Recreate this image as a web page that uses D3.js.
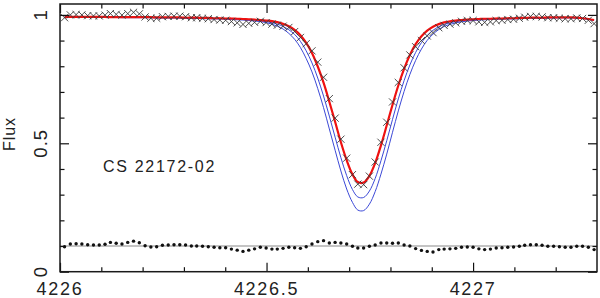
<!DOCTYPE html>
<html>
<head>
<meta charset="utf-8">
<script src="https://cdn.jsdelivr.net/npm/d3@7"></script>
<style>
  body { margin: 0; background: #fff; }
  text { font-family: "Liberation Sans", Arial, sans-serif; fill: #222; }
</style>
</head>
<body>
<svg width="600" height="298"></svg>
<script>
// wavelength grid (Angstrom)
const wave = [
  4226.011, 4226.025, 4226.039, 4226.053, 4226.067, 4226.081, 4226.095, 4226.109, 4226.122, 4226.136,
  4226.150, 4226.164, 4226.178, 4226.192, 4226.206, 4226.220, 4226.234, 4226.248, 4226.262, 4226.276,
  4226.290, 4226.304, 4226.318, 4226.331, 4226.345, 4226.359, 4226.373, 4226.387, 4226.401, 4226.415,
  4226.429, 4226.443, 4226.457, 4226.471, 4226.485, 4226.499, 4226.513, 4226.526, 4226.540, 4226.554,
  4226.568, 4226.582, 4226.596, 4226.610, 4226.624, 4226.638, 4226.652, 4226.666, 4226.680, 4226.694,
  4226.708, 4226.721, 4226.735, 4226.749, 4226.763, 4226.777, 4226.791, 4226.805, 4226.819, 4226.833,
  4226.847, 4226.861, 4226.875, 4226.889, 4226.903, 4226.917, 4226.930, 4226.944, 4226.958, 4226.972,
  4226.986, 4227.000, 4227.014, 4227.028, 4227.042, 4227.056, 4227.070, 4227.084, 4227.098, 4227.112,
  4227.125, 4227.139, 4227.153, 4227.167, 4227.181, 4227.195, 4227.209, 4227.223, 4227.237, 4227.251,
  4227.265, 4227.279, 4227.293
];

// observed spectrum
const obsFlux = [
  0.989, 1.000, 1.001, 1.000, 0.997, 0.996, 0.996, 0.999, 1.005, 1.002,
  0.999, 1.005, 1.010, 1.004, 0.992, 0.987, 0.987, 0.993, 0.994, 0.995,
  0.995, 0.993, 0.989, 0.989, 0.987, 0.985, 0.982, 0.980, 0.979, 0.974,
  0.969, 0.963, 0.967, 0.971, 0.975, 0.970, 0.964, 0.960, 0.956, 0.951,
  0.935, 0.912, 0.888, 0.860, 0.816, 0.757, 0.674, 0.598, 0.516, 0.442,
  0.378, 0.341, 0.339, 0.372, 0.427, 0.504, 0.582, 0.661, 0.737, 0.794,
  0.844, 0.876, 0.900, 0.918, 0.931, 0.950, 0.959, 0.964, 0.969, 0.975,
  0.978, 0.978, 0.973, 0.971, 0.973, 0.978, 0.979, 0.982, 0.983, 0.987,
  0.991, 0.994, 0.994, 0.992, 0.989, 0.989, 0.987, 0.985, 0.985, 0.988,
  0.986, 0.979, 0.966
];

// best fit synthesis (red)
const fitFlux = [
  0.992, 0.992, 0.992, 0.992, 0.992, 0.992, 0.992, 0.992, 0.991, 0.991,
  0.991, 0.991, 0.991, 0.991, 0.991, 0.991, 0.990, 0.990, 0.990, 0.990,
  0.990, 0.989, 0.989, 0.989, 0.988, 0.988, 0.987, 0.987, 0.986, 0.986,
  0.985, 0.984, 0.983, 0.982, 0.980, 0.978, 0.976, 0.972, 0.965, 0.956,
  0.942, 0.921, 0.891, 0.852, 0.799, 0.736, 0.662, 0.584, 0.504, 0.434,
  0.379, 0.349, 0.347, 0.373, 0.423, 0.492, 0.570, 0.650, 0.725, 0.790,
  0.844, 0.886, 0.917, 0.939, 0.954, 0.964, 0.971, 0.975, 0.978, 0.980,
  0.982, 0.983, 0.984, 0.985, 0.985, 0.986, 0.986, 0.987, 0.987, 0.988,
  0.988, 0.989, 0.989, 0.989, 0.990, 0.990, 0.990, 0.990, 0.990, 0.989,
  0.987, 0.984, 0.980
];

// stronger syntheses (blue)
const synA = [
  0.991, 0.991, 0.991, 0.991, 0.991, 0.991, 0.991, 0.991, 0.990, 0.990,
  0.990, 0.990, 0.990, 0.990, 0.990, 0.990, 0.989, 0.989, 0.989, 0.989,
  0.989, 0.988, 0.988, 0.988, 0.987, 0.987, 0.986, 0.986, 0.985, 0.985,
  0.984, 0.982, 0.981, 0.979, 0.977, 0.974, 0.970, 0.964, 0.955, 0.942,
  0.924, 0.897, 0.860, 0.813, 0.754, 0.684, 0.606, 0.524, 0.444, 0.374,
  0.320, 0.291, 0.289, 0.314, 0.363, 0.432, 0.510, 0.593, 0.673, 0.744,
  0.805, 0.854, 0.892, 0.920, 0.940, 0.954, 0.963, 0.969, 0.974, 0.977,
  0.979, 0.980, 0.982, 0.983, 0.984, 0.985, 0.985, 0.986, 0.986, 0.987,
  0.987, 0.988, 0.988, 0.988, 0.989, 0.989, 0.989, 0.989, 0.989, 0.988,
  0.986, 0.983, 0.979
];
const synB = [
  0.991, 0.991, 0.991, 0.991, 0.991, 0.991, 0.991, 0.991, 0.990, 0.990,
  0.989, 0.989, 0.989, 0.989, 0.989, 0.989, 0.988, 0.988, 0.988, 0.988,
  0.987, 0.986, 0.986, 0.986, 0.985, 0.985, 0.984, 0.984, 0.983, 0.982,
  0.981, 0.980, 0.978, 0.976, 0.974, 0.970, 0.964, 0.956, 0.945, 0.928,
  0.905, 0.873, 0.830, 0.778, 0.713, 0.639, 0.556, 0.473, 0.392, 0.322,
  0.270, 0.240, 0.238, 0.263, 0.312, 0.380, 0.458, 0.543, 0.626, 0.702,
  0.768, 0.823, 0.867, 0.901, 0.925, 0.943, 0.955, 0.963, 0.969, 0.973,
  0.976, 0.978, 0.980, 0.981, 0.982, 0.983, 0.983, 0.984, 0.984, 0.985,
  0.986, 0.987, 0.987, 0.987, 0.988, 0.988, 0.989, 0.989, 0.989, 0.988,
  0.986, 0.983, 0.979
];

// residuals obs - fit, drawn around 0.1
const resid = [
  -0.003, 0.008, 0.009, 0.008, 0.005, 0.004, 0.004, 0.007, 0.014, 0.011,
  0.008, 0.014, 0.019, 0.013, 0.001, -0.004, -0.003, 0.003, 0.004, 0.005,
  0.005, 0.004, 0.000, 0.000, -0.001, -0.003, -0.005, -0.007, -0.007, -0.012,
  -0.016, -0.021, -0.016, -0.011, -0.005, -0.008, -0.012, -0.012, -0.009, -0.005,
  -0.007, -0.009, -0.003, 0.008, 0.017, 0.021, 0.012, 0.014, 0.012, 0.008,
  -0.001, -0.008, -0.008, -0.001, 0.004, 0.012, 0.012, 0.011, 0.012, 0.004,
  0.000, -0.010, -0.017, -0.021, -0.023, -0.014, -0.012, -0.011, -0.009, -0.005,
  -0.004, -0.005, -0.011, -0.014, -0.012, -0.008, -0.007, -0.005, -0.004, -0.001,
  0.003, 0.005, 0.005, 0.003, -0.001, -0.001, -0.003, -0.005, -0.005, -0.001,
  -0.001, -0.005, -0.014
];
const residBase = 0.1;

const xMajorTicks = [4226, 4226.5, 4227];
const xMinorTicks = [4226.1, 4226.2, 4226.3, 4226.4, 4226.6, 4226.7, 4226.8, 4226.9, 4227.1, 4227.2];
const yMajorTicks = [0, 0.5, 1];
const yMinorTicks = [0.1, 0.2, 0.3, 0.4, 0.6, 0.7, 0.8, 0.9];
const xTickLabels = ["4226", "4226.5", "4227"];
const yTickLabels = ["0", "0.5", "1"];
const starName = "CS 22172-02";

const svg = d3.select("svg");

const x = d3.scaleLinear().domain([4226, 4227.3]).range([60, 597]);
const y = d3.scaleLinear().domain([0, 1.0424]).range([271.7, 4]);

svg.append("clipPath").attr("id", "plot")
  .append("rect")
  .attr("x", x.range()[0]).attr("y", y.range()[1])
  .attr("width", x.range()[1] - x.range()[0])
  .attr("height", y.range()[0] - y.range()[1]);

const plot = svg.append("g").attr("clip-path", "url(#plot)");

const line = arr => d3.line()
  .x((d, i) => x(wave[i]))
  .y(d => y(d))
  .curve(d3.curveCatmullRom.alpha(0.5))(arr);

// residual baseline
plot.append("line")
  .attr("x1", x.range()[0]).attr("x2", x.range()[1])
  .attr("y1", y(residBase)).attr("y2", y(residBase))
  .attr("stroke", "#b0b0b0").attr("stroke-width", 1.6);

[synA, synB].forEach(s => {
  plot.append("path")
    .attr("d", line(s))
    .attr("fill", "none")
    .attr("stroke", "#3b48d6")
    .attr("stroke-width", 1);
});

plot.append("path")
  .attr("d", line(fitFlux))
  .attr("fill", "none")
  .attr("stroke", "#ee1111")
  .attr("stroke-width", 2.2);

// observed points as crosses
plot.selectAll(".obs")
  .data(obsFlux)
  .enter().append("path")
  .attr("class", "obs")
  .attr("transform", (d, i) => "translate(" + x(wave[i]) + "," + y(d) + ")")
  .attr("d", "M-3.6,-3.6L3.6,3.6M-3.6,3.6L3.6,-3.6")
  .attr("stroke", "#3a3a3a")
  .attr("stroke-width", 0.9)
  .attr("fill", "none");

// residual dots
plot.selectAll(".res")
  .data(resid)
  .enter().append("circle")
  .attr("class", "res")
  .attr("cx", (d, i) => x(wave[i]))
  .attr("cy", d => y(residBase + d))
  .attr("r", 1.7)
  .attr("fill", "#111");

// ticks on all four sides, pointing inward
function ticks(axis, vals, len, transform) {
  const g = svg.append("g")
    .attr("transform", transform)
    .call(axis.tickValues(vals).tickSize(-len).tickFormat(""));
  g.select(".domain").remove();
  g.selectAll("line").attr("stroke", "#111").attr("stroke-width", 1.2);
}
ticks(d3.axisBottom(x), xMinorTicks, 4.5, "translate(0," + y(0) + ")");
ticks(d3.axisBottom(x), xMajorTicks, 9, "translate(0," + y(0) + ")");
ticks(d3.axisTop(x), xMinorTicks, 4.5, "translate(0," + y.range()[1] + ")");
ticks(d3.axisTop(x), xMajorTicks, 9, "translate(0," + y.range()[1] + ")");
ticks(d3.axisLeft(y), yMinorTicks, 4.5, "translate(" + x.range()[0] + ",0)");
ticks(d3.axisLeft(y), yMajorTicks, 9, "translate(" + x.range()[0] + ",0)");
ticks(d3.axisRight(y), yMinorTicks, 4.5, "translate(" + x.range()[1] + ",0)");
ticks(d3.axisRight(y), yMajorTicks, 9, "translate(" + x.range()[1] + ",0)");

// frame
svg.append("rect")
  .attr("x", x.range()[0]).attr("y", y.range()[1])
  .attr("width", x.range()[1] - x.range()[0])
  .attr("height", y.range()[0] - y.range()[1])
  .attr("fill", "none")
  .attr("stroke", "#1a1a1a")
  .attr("stroke-width", 1.5);

// tick labels
svg.selectAll(".xlab")
  .data(xMajorTicks)
  .enter().append("text")
  .attr("x", d => x(d))
  .attr("y", 294.5)
  .attr("text-anchor", "middle")
  .style("font-size", "18px")
  .style("letter-spacing", "1.7px")
  .text((d, i) => xTickLabels[i]);

svg.selectAll(".ylab")
  .data(yMajorTicks)
  .enter().append("text")
  .attr("transform", d => "translate(47," + y(d) + ") rotate(-90)")
  .attr("text-anchor", "middle")
  .style("font-size", "18.5px")
  .style("letter-spacing", "1px")
  .text((d, i) => yTickLabels[i]);

svg.append("text")
  .attr("transform", "translate(15,134) rotate(-90)")
  .attr("text-anchor", "middle")
  .style("font-size", "16px")
  .style("letter-spacing", "1px")
  .text("Flux");

svg.append("text")
  .attr("x", 103)
  .attr("y", 171.5)
  .style("font-size", "16px")
  .style("letter-spacing", "1.7px")
  .text(starName);
</script>
</body>
</html>
